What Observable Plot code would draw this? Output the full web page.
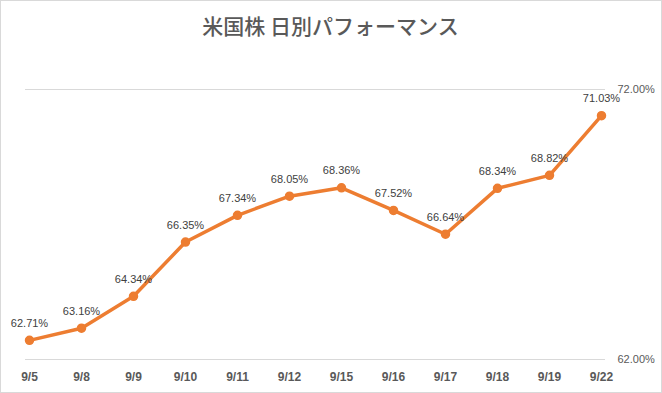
<!DOCTYPE html>
<html><head><meta charset="utf-8">
<script src="https://cdn.jsdelivr.net/npm/d3@7"></script>
<script src="https://cdn.jsdelivr.net/npm/@observablehq/plot@0.6"></script>
<style>
body{margin:0;background:#fff;}
#wrap{position:relative;width:662px;height:393px;}
#border{position:absolute;left:0;top:0;width:662px;height:393px;box-sizing:border-box;border:1px solid #d9d9d9;pointer-events:none;}
</style></head>
<body><div id="wrap"><div id="border"></div></div>
<script>
const title = "米国株 日別パフォーマンス";
const dates = ["9/5","9/8","9/9","9/10","9/11","9/12","9/15","9/16","9/17","9/18","9/19","9/22"];
const values = [62.71,63.16,64.34,66.35,67.34,68.05,68.36,67.52,66.64,68.34,68.82,71.03];
const yTicks = [62,72];
const data = dates.map((d,i)=>({date:d,value:values[i]}));
const orange = "#ED7D31";
const chart = Plot.plot({
  width:662, height:393,
  marginTop:89, marginBottom:34, marginLeft:25, marginRight:57,
  style:{fontFamily:"'Liberation Sans', Arial, sans-serif", background:"transparent"},
  x:{type:"point", domain:dates, padding:0, label:null},
  y:{domain:[62,72], label:null},
  marks:[
    Plot.ruleY(yTicks,{stroke:"#d9d9d9", strokeWidth:1}),
    Plot.axisX({tickSize:0, tickPadding:13, fontSize:12, fontWeight:"bold", fill:"#595959"}),
    Plot.axisY(yTicks,{anchor:"right", tickSize:0, tickPadding:12, fontSize:11, fill:"#595959", tickFormat:d=>d.toFixed(2)+"%"}),
    Plot.line(data,{x:"date", y:"value", stroke:orange, strokeWidth:3.5, strokeLinejoin:"round"}),
    Plot.dot(data,{x:"date", y:"value", r:4, fill:orange, stroke:orange}),
    Plot.text(data,{x:"date", y:"value", text:d=>d.value.toFixed(2)+"%", dy:-17, fontSize:11, fill:"#404040", lineAnchor:"middle"}),
    Plot.text([title],{frameAnchor:"top", dy:-62, dx:15, fontSize:21, fontWeight:500, fill:"#595959", fontFamily:"'Noto Sans CJK JP', sans-serif", lineAnchor:"middle"})
  ]
});
document.getElementById("wrap").prepend(chart);
</script></body></html>
